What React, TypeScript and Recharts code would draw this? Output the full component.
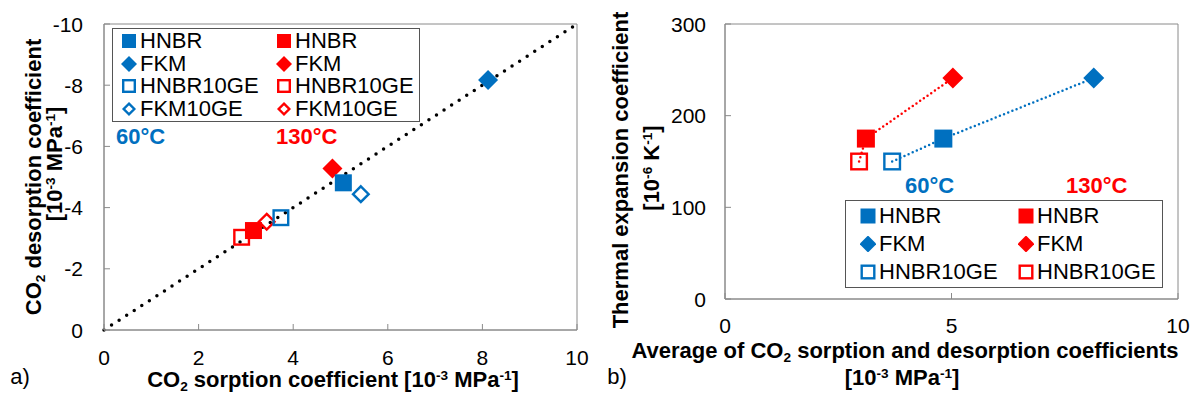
import React from "react";
import { ScatterChart, Scatter, XAxis, YAxis, ReferenceArea, ReferenceLine, Legend } from "recharts";

const BLUE = "#0070C0";
const RED = "#FF0000";
const AXIS = "#8a8a8a";
const FONT = "'Liberation Sans', Arial, sans-serif";

// a) CO2 sorption vs desorption coefficient [1e-3 MPa^-1]
const materialsA = ["HNBR", "FKM", "HNBR10GE", "FKM10GE"];
const sorption60 = [5.06, 8.12, 3.74, 5.43];
const desorption60 = [-4.81, -8.17, -3.67, -4.44];
const sorption130 = [3.16, 4.83, 2.91, 3.44];
const desorption130 = [-3.25, -5.28, -3.03, -3.54];
const xTicksA = [0, 2, 4, 6, 8, 10];
const yTicksA = [0, -2, -4, -6, -8, -10];

// b) average coefficient vs thermal expansion coefficient [1e-6 K^-1]
const materialsB = ["HNBR", "FKM", "HNBR10GE"];
const average60 = [4.82, 8.14, 3.69];
const expansion60 = [175, 241, 150];
const average130 = [3.11, 5.03, 2.96];
const expansion130 = [175, 241, 150];
const lineOrderB = [2, 0, 1]; // HNBR10GE -> HNBR -> FKM
const xTicksB = [0, 5, 10];
const yTicksB = [0, 100, 200, 300];

const temps = ["60°C", "130°C"];

type Kind = "square" | "diamond" | "openSquare" | "openDiamond";
const kindOf: Record<string, Kind> = {
  HNBR: "square",
  FKM: "diamond",
  HNBR10GE: "openSquare",
  FKM10GE: "openDiamond",
};

function Marker({ kind, cx, cy, size, color }: { kind: Kind; cx: number; cy: number; size: number; color: string }) {
  const h = size / 2;
  const sw = 2.4;
  if (kind === "square") return <rect x={cx - h} y={cy - h} width={size} height={size} fill={color} />;
  if (kind === "openSquare")
    return (
      <rect x={cx - h + sw / 2} y={cy - h + sw / 2} width={size - sw} height={size - sw} fill="none" stroke={color} strokeWidth={sw} />
    );
  const k = kind === "openDiamond" ? h - sw * 0.7 : h;
  const pts = `${cx},${cy - k} ${cx + k},${cy} ${cx},${cy + k} ${cx - k},${cy}`;
  if (kind === "diamond") return <polygon points={pts} fill={color} />;
  return <polygon points={pts} fill="none" stroke={color} strokeWidth={sw} />;
}

const makeXTick = (margin: number) => (props: any) => {
  const { x, y, payload } = props;
  const axisY = y - margin;
  return (
    <g>
      <line x1={x} x2={x} y1={axisY} y2={axisY - 6} stroke={AXIS} />
      <text x={x} y={y} dy="0.71em" textAnchor="middle" fontSize={21} fill="#000" fontFamily={FONT}>
        {payload.value}
      </text>
    </g>
  );
};

const makeYTick = (margin: number) => (props: any) => {
  const { x, y, payload } = props;
  const axisX = x + margin;
  return (
    <g>
      <line x1={axisX} x2={axisX + 6} y1={y} y2={y} stroke={AXIS} />
      <text x={x} y={y} dy="0.36em" textAnchor="end" fontSize={21} fill="#000" fontFamily={FONT}>
        {payload.value}
      </text>
    </g>
  );
};

type LegendItem = { name: string; kind: Kind; color: string };

function LegendBox({ items, width, height, first, step, cols, iconSize }: {
  items: LegendItem[];
  width: number;
  height: number;
  first: number;
  step: number;
  cols: number[];
  iconSize: number;
}) {
  return (
    <div
      style={{
        width,
        height,
        boxSizing: "border-box",
        border: "1.5px solid #555",
        background: "#fff",
        position: "relative",
        fontFamily: FONT,
        fontSize: 22,
        color: "#000",
      }}
    >
      {items.map((it, i) => (
        <div
          key={i}
          style={{
            position: "absolute",
            left: cols[i % 2],
            top: first + Math.floor(i / 2) * step,
            transform: "translateY(-50%)",
            display: "flex",
            alignItems: "center",
            lineHeight: 1,
            whiteSpace: "nowrap",
          }}
        >
          <svg width={16} height={16} style={{ marginRight: 3 }}>
            <Marker kind={it.kind} cx={8} cy={8} size={it.kind === "diamond" ? iconSize + 2 : iconSize} color={it.color} />
          </svg>
          <span>{it.name}</span>
        </div>
      ))}
    </div>
  );
}

const legendItems = (names: string[]): LegendItem[] =>
  names.flatMap((n) => [
    { name: n, kind: kindOf[n], color: BLUE },
    { name: n, kind: kindOf[n], color: RED },
  ]);

const sub = { fontSize: "0.62em", verticalAlign: "-0.3em", lineHeight: 0 } as React.CSSProperties;
const sup = { fontSize: "0.62em", verticalAlign: "0.55em", lineHeight: 0 } as React.CSSProperties;

function Txt({ x, y, children, style, rotate }: { x: number; y: number; children: React.ReactNode; style?: React.CSSProperties; rotate?: boolean }) {
  return (
    <div
      style={{
        position: "absolute",
        left: x,
        top: y,
        transform: `translate(-50%, -50%)${rotate ? " rotate(-90deg)" : ""}`,
        whiteSpace: "nowrap",
        lineHeight: 1,
        ...style,
      }}
    >
      {children}
    </div>
  );
}

const bold = { fontWeight: 700, fontSize: 22 } as React.CSSProperties;
const tempStyle = (c: string) => ({ fontWeight: 700, fontSize: 22, color: c } as React.CSSProperties);

export default function App() {
  const markerSize = (k: Kind) => (k === "diamond" ? 20 : k === "openDiamond" ? 19 : 17);

  return (
    <div style={{ position: "absolute", left: 0, top: 0, width: 1200, height: 399, background: "#fff", fontFamily: FONT, overflow: "hidden" }}>
      <div style={{ position: "absolute", left: 0, top: 0 }}>
        <ScatterChart width={600} height={399} margin={{ top: 24, right: 23, bottom: 0, left: 44 }}>
          <XAxis
            type="number"
            dataKey="x"
            domain={[0, 10]}
            ticks={xTicksA}
            interval={0}
            height={69}
            tickSize={0}
            tickMargin={20}
            tickLine={false}
            axisLine={{ stroke: AXIS }}
            tick={makeXTick(20)}
          />
          <YAxis
            type="number"
            dataKey="y"
            domain={[-10, 0]}
            reversed
            ticks={yTicksA}
            interval={0}
            width={60}
            tickSize={0}
            tickMargin={21}
            tickLine={false}
            axisLine={{ stroke: AXIS }}
            tick={makeYTick(21)}
          />
          <ReferenceArea x1={0} x2={10} y1={-10} y2={0} fill="none" stroke={AXIS} strokeWidth={1} />
          <ReferenceLine
            segment={[{ x: 0, y: 0 }, { x: 10, y: -10 }]}
            stroke="#000"
            strokeWidth={3.5}
            strokeDasharray="0 9"
            strokeLinecap="round"
          />
          {materialsA.map((m, i) => (
            <Scatter
              key={"r" + m}
              name={m}
              data={[{ x: sorption130[i], y: desorption130[i] }]}
              isAnimationActive={false}
              shape={(p: any) => <Marker kind={kindOf[m]} cx={p.cx} cy={p.cy} size={markerSize(kindOf[m])} color={RED} />}
            />
          ))}
          {materialsA.map((m, i) => (
            <Scatter
              key={"b" + m}
              name={m}
              data={[{ x: sorption60[i], y: desorption60[i] }]}
              isAnimationActive={false}
              shape={(p: any) => <Marker kind={kindOf[m]} cx={p.cx} cy={p.cy} size={markerSize(kindOf[m])} color={BLUE} />}
            />
          ))}
          <Legend
            layout="horizontal"
            verticalAlign="middle"
            align="center"
            wrapperStyle={{ left: 112, top: 28, width: 308, height: 94 }}
            content={() => (
              <LegendBox items={legendItems(materialsA)} width={308} height={94} first={12} step={22.7} cols={[8, 163]} iconSize={14} />
            )}
          />
        </ScatterChart>
      </div>

      <div style={{ position: "absolute", left: 600, top: 0 }}>
        <ScatterChart width={600} height={399} margin={{ top: 24, right: 22, bottom: 0, left: 65 }}>
          <XAxis
            type="number"
            dataKey="x"
            domain={[0, 10]}
            ticks={xTicksB}
            interval={0}
            height={100}
            tickSize={0}
            tickMargin={19}
            tickLine={false}
            axisLine={{ stroke: AXIS }}
            tick={makeXTick(19)}
          />
          <YAxis
            type="number"
            dataKey="y"
            domain={[0, 300]}
            ticks={yTicksB}
            interval={0}
            width={60}
            tickSize={0}
            tickMargin={19}
            tickLine={false}
            axisLine={{ stroke: AXIS }}
            tick={makeYTick(19)}
          />
          <ReferenceArea x1={0} x2={10} y1={0} y2={300} fill="none" stroke={AXIS} strokeWidth={1} />
          <Scatter
            name="line130"
            data={lineOrderB.map((i) => ({ x: average130[i], y: expansion130[i] }))}
            line={{ stroke: RED, strokeWidth: 2.5, strokeDasharray: "0 4.5", strokeLinecap: "round" }}
            lineType="joint"
            legendType="none"
            isAnimationActive={false}
            shape={() => <g />}
          />
          <Scatter
            name="line60"
            data={lineOrderB.map((i) => ({ x: average60[i], y: expansion60[i] }))}
            line={{ stroke: BLUE, strokeWidth: 2.5, strokeDasharray: "0 4.5", strokeLinecap: "round" }}
            lineType="joint"
            legendType="none"
            isAnimationActive={false}
            shape={() => <g />}
          />
          {materialsB.map((m, i) => (
            <Scatter
              key={"r" + m}
              name={m}
              data={[{ x: average130[i], y: expansion130[i] }]}
              isAnimationActive={false}
              shape={(p: any) => <Marker kind={kindOf[m]} cx={p.cx} cy={p.cy} size={kindOf[m] === "diamond" ? 21 : 18} color={RED} />}
            />
          ))}
          {materialsB.map((m, i) => (
            <Scatter
              key={"b" + m}
              name={m}
              data={[{ x: average60[i], y: expansion60[i] }]}
              isAnimationActive={false}
              shape={(p: any) => <Marker kind={kindOf[m]} cx={p.cx} cy={p.cy} size={kindOf[m] === "diamond" ? 21 : 18} color={BLUE} />}
            />
          ))}
          <Legend
            layout="horizontal"
            verticalAlign="middle"
            align="center"
            wrapperStyle={{ left: 245, top: 200, width: 318, height: 88 }}
            content={() => (
              <LegendBox items={legendItems(materialsB)} width={318} height={88} first={15} step={28} cols={[14, 172]} iconSize={15} />
            )}
          />
        </ScatterChart>
      </div>

      {/* temperature labels */}
      <div style={{ position: "absolute", left: 116, top: 137, transform: "translateY(-50%)", lineHeight: 1, ...tempStyle(BLUE) }}>{temps[0]}</div>
      <div style={{ position: "absolute", left: 276, top: 137, transform: "translateY(-50%)", lineHeight: 1, ...tempStyle(RED) }}>{temps[1]}</div>
      <div style={{ position: "absolute", left: 905, top: 186, transform: "translateY(-50%)", lineHeight: 1, ...tempStyle(BLUE) }}>{temps[0]}</div>
      <div style={{ position: "absolute", left: 1066, top: 186, transform: "translateY(-50%)", lineHeight: 1, ...tempStyle(RED) }}>{temps[1]}</div>

      {/* axis titles, chart a */}
      <Txt x={333} y={380} style={bold}>
        CO<sub style={sub}>2</sub> sorption coefficient [10<sup style={sup}>-3</sup> MPa<sup style={sup}>-1</sup>]
      </Txt>
      <Txt x={34} y={177} rotate style={bold}>
        CO<sub style={sub}>2</sub> desorption coefficient
      </Txt>
      <Txt x={55} y={164} rotate style={bold}>
        [10<sup style={sup}>-3</sup> MPa<sup style={sup}>-1</sup>]
      </Txt>
      <Txt x={20} y={377} style={{ fontSize: 22 }}>a)</Txt>

      {/* axis titles, chart b */}
      <Txt x={905} y={351} style={bold}>
        Average of CO<sub style={sub}>2</sub> sorption and desorption coefficients
      </Txt>
      <Txt x={902} y={378} style={bold}>
        [10<sup style={sup}>-3</sup> MPa<sup style={sup}>-1</sup>]
      </Txt>
      <Txt x={621} y={170} rotate style={bold}>
        Thermal expansion coefficient
      </Txt>
      <Txt x={652} y={168} rotate style={bold}>
        [10<sup style={sup}>-6</sup> K<sup style={sup}>-1</sup>]
      </Txt>
      <Txt x={617} y={377} style={{ fontSize: 22 }}>b)</Txt>
    </div>
  );
}
